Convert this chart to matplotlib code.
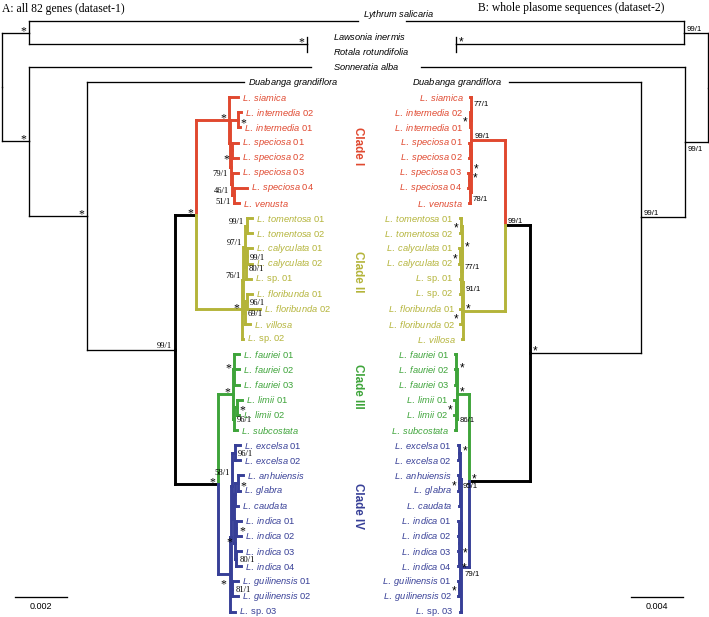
import matplotlib
matplotlib.use('Agg')
import matplotlib.pyplot as plt
from matplotlib.transforms import blended_transform_factory

plt.rcParams['mathtext.fontset'] = 'custom'
plt.rcParams['mathtext.it'] = 'Liberation Sans:italic'
plt.rcParams['mathtext.rm'] = 'Liberation Sans'
plt.rcParams['font.family'] = ['Liberation Sans', 'DejaVu Sans']

# ---------------- data: trees in Newick (branch lengths = substitutions/site) ----
# support label suffixes: '_' below branch, '>' on the tip side, '~' centred on the stem side,
# '^' raised above the branch
BACKBONE_A = ("((Lythrum salicaria:0.01265,(Lawsonia inermis:0.00002,Rotala rotundifolia:0.00002)*:0.01069)*:0.00104,"
              "(Sonneratia alba:0.01085,(Duabanga grandiflora:0.00604,((#I:0.00127,#II:0.00177)*:0.00081,"
              "(#III:0.00058,#IV:0.00046)*:0.00165)99/1:0.00338)*:0.00223)*:0.00104)")
CLADE_I_A = ("(L. siamica:0.00035,((L. intermedia 02:0.00012,L. intermedia 01:0.00008)*>:0.0003,"
             "((L. speciosa 01:0.0002,L. speciosa 02:0.0002)*_:0.00005,(L. speciosa 03:0.0002,"
             "(L. speciosa 04:0.0005,L. venusta:0.0002)51/1_:0.00005)46/1_:0.00005)79/1_:0.00005):0.00003)*")
CLADE_II_A = ("((((L. tomentosa 01:0.0002,L. tomentosa 02:0.0002)99/1:0.0001,((L. calyculata 01:0.0002,"
              "L. calyculata 02:0.0002)99/1>:0.00005,L. sp. 01:0.0002)80/1>:0.00005)97/1:0.00005,"
              "((L. floribunda 01:0.0002,L. floribunda 02:0.0005)96/1>:0.0001,L. villosa:0.0002)69/1>:0.00005)76/1:0.00005,"
              "L. sp. 02:0.00005)*")
CLADE_III_A = ("((L. fauriei 01:0.0002,L. fauriei 02:0.0002,L. fauriei 03:0.0002)*:0.00005,"
               "((L. limii 01:0.0002,L. limii 02:0.0001)*>:0.0001,L. subcostata:0.0001)96/1>:0.00005)*")
CLADE_IV_A = ("((((L. excelsa 01:0.0002,L. excelsa 02:0.0002)96/1>:0.0001,"
              "(((L. anhuiensis:0.0002,L. glabra:0.0001)*>:0.0001,L. caudata:0.0001):0.00005,"
              "((L. indica 01:0.0002,L. indica 02:0.0002)*>:0.00005,(L. indica 03:0.0002,"
              "L. indica 04:0.0002)80/1>:0.00005)*:0.00005):0.00005)58/1^:0.00005,"
              "(L. guilinensis 01:0.0002,L. guilinensis 02:0.0002)81/1>:0.00005):0.00005,L. sp. 03:0.0002)*_")

BACKBONE_B = ("((Lythrum salicaria:0.0214,(Lawsonia inermis:0.00002,Rotala rotundifolia:0.00002)*:0.01754)99/1:0.00185,"
              "(Sonneratia alba:0.0203,(Duabanga grandiflora:0.01015,((#I:0.0026,#II:0.00323)99/1:0.00192,"
              "(#III:0.00092,#IV:0.0006)*:0.00469)*:0.00854)99/1:0.00338)99/1_:0.00177)")
CLADE_I_B = ("((L. siamica:0.00005,(L. intermedia 02:0.00005,L. intermedia 01:0.00005)*>:0.00005)77/1:0.00003,"
             "((L. speciosa 01:0.0001,L. speciosa 02:0.0001):0.00005,((L. speciosa 03:0.0001,"
             "L. speciosa 04:0.0001)*:0.00005,L. venusta:0.0001)78/1_:0.00005)*:0.00005)99/1")
CLADE_II_B = ("((((L. tomentosa 01:0.0001,L. tomentosa 02:0.0001)*>:0.00005,((L. calyculata 01:0.0001,"
              "L. calyculata 02:0.0001)*>:0.00005,(L. sp. 01:0.0001,L. sp. 02:0.0001))77/1:0.00005)*:0.00005,"
              "(L. floribunda 01:0.0001,L. floribunda 02:0.0001)*>:0.00005)91/1_:0.00005,L. villosa:0.0001)*")
CLADE_III_B = ("((L. fauriei 01:0.0001,L. fauriei 02:0.0001,L. fauriei 03:0.0001)*:0.00005,"
               "((L. limii 01:0.0001,L. limii 02:0.0001)*>:0.00005,L. subcostata:0.0001)86/1~:0.00005)*")
CLADE_IV_B = ("((((L. excelsa 01:0.0001,L. excelsa 02:0.0001)*:0.00005,(L. anhuiensis:0.0001,L. glabra:0.0001)*>:0.00005,"
              "L. caudata:0.0001)95/1_:0.00005,(((L. indica 01:0.0001,L. indica 02:0.0001):0.00003,"
              "(L. indica 03:0.0001,L. indica 04:0.0001)*_:0.00003)*_:0.00005,"
              "(L. guilinensis 01:0.0001,L. guilinensis 02:0.0001)*>:0.00005):0.00005):0.00005,L. sp. 03:0.0001)79/1_")

CLADE_NAMES = ['I', 'II', 'III', 'IV']
CLADE_COLORS = {'I': '#e0482f', 'II': '#b4b43a', 'III': '#3ea43a', 'IV': '#373f97'}
CLADE_LABEL_SHIFT = {'I': -4, 'II': -7, 'III': -6, 'IV': -22}   # px, layout only
SHARED_OUTGROUPS = ['Lythrum salicaria', 'Lawsonia inermis', 'Rotala rotundifolia', 'Sonneratia alba']
TITLE_A = 'A: all 82 genes (dataset-1)'
TITLE_B = 'B: whole plasome sequences (dataset-2)'
SCALE_A = 0.002
SCALE_B = 0.004

# ---------------- tree utilities ----------------
def parse(s):
    pos = 0
    def node():
        nonlocal pos
        n = {'children': [], 'name': '', 'len': 0.0}
        if s[pos] == '(':
            pos += 1
            while True:
                n['children'].append(node())
                if s[pos] == ',':
                    pos += 1
                    continue
                if s[pos] == ')':
                    pos += 1
                    break
        st = pos
        while pos < len(s) and s[pos] not in ',():;':
            pos += 1
        n['name'] = s[st:pos].strip()
        if pos < len(s) and s[pos] == ':':
            pos += 1
            st = pos
            while pos < len(s) and s[pos] not in ',();':
                pos += 1
            n['len'] = float(s[st:pos])
        return n
    return node()


def build(backbone, clades):
    root = parse(backbone)
    def graft(n, clade):
        n['clade'] = clade
        for i, c in enumerate(n['children']):
            if c['name'].startswith('#'):
                key = c['name'][1:]
                sub = parse(clades[key])
                sub['len'] = c['len']
                graft(sub, key)
                n['children'][i] = sub
            else:
                graft(c, clade)
    graft(root, None)
    return root


def layout(root):
    counter = [0]
    def rec(n, x):
        n['x'] = x + n['len']
        if not n['children']:
            n['y'] = counter[0]
            counter[0] += 1
            n['og'] = n['clade'] is None
        else:
            for c in n['children']:
                rec(c, n['x'])
            n['y'] = 0.5 * (n['children'][0]['y'] + n['children'][-1]['y'])
            n['og'] = any(c['og'] for c in n['children'])
    root['len'] = 0.0
    rec(root, 0.0)


def fmt(name):
    parts = name.split(' ')
    if name.startswith('L. sp.'):
        ital, rest = 'L.', ' '.join(parts[1:])
    elif parts[-1].isdigit():
        ital, rest = ' '.join(parts[:-1]), parts[-1]
    else:
        ital, rest = name, ''
    s = r'$\mathit{' + ital.replace(' ', r'\ ') + '}$'
    if rest:
        s += ' ' + rest
    return s


PX = 72.0 / 100.0  # points per pixel


def draw_tree(ax, root, side, sup_font, sup_size, star_size):
    stem = -1 if side == 'left' else 1      # screen direction of the stem side
    def rec(n):
        for c in n['children']:
            thick = not n['og']
            col = CLADE_COLORS[c['clade']] if c['clade'] else 'black'
            lw = 2.1 if thick else 0.95
            ax.plot([n['x'], n['x']], [n['y'], c['y']], color=col, lw=lw,
                    solid_capstyle='projecting', zorder=3 if thick else 2)
            ax.plot([n['x'], c['x']], [c['y'], c['y']], color=col, lw=lw,
                    solid_capstyle='projecting', zorder=3 if thick else 2)
            rec(c)
        if not n['children']:
            if n['name'] in SHARED_OUTGROUPS:
                return
            col = CLADE_COLORS[n['clade']] if n['clade'] else 'black'
            gap = 4 if side == 'left' else 6
            ax.annotate(fmt(n['name']), (n['x'], n['y']), xytext=(-stem * gap * PX, 0),
                        textcoords='offset points', ha='left' if side == 'left' else 'right',
                        va='center', fontsize=6.7, color=col, zorder=5)
        elif n['name']:
            lab = n['name']
            mode = ''
            if lab[-1] in '_>~^':
                mode = lab[-1]
                lab = lab[:-1]
            star = lab == '*'
            direction = -stem if mode == '>' else stem
            if mode == '_':
                dy = -(12.5 if star else 9) * PX
            elif mode in ('>', '~'):
                dy = (-6 if star else -3.5) * PX
            elif mode == '^':
                dy = (7.5 if star else 11) * PX
            else:
                dy = (-1.5 if star else 2) * PX
            dx = direction * 3 * PX
            ax.annotate(lab, (n['x'], n['y']), xytext=(dx, dy), textcoords='offset points',
                        ha='right' if direction < 0 else 'left', va='baseline',
                        fontsize=star_size if star else sup_size, family=sup_font,
                        color='black', zorder=6)
    rec(root)


def leaf_y(root, name):
    stack = [root]
    while stack:
        n = stack.pop()
        if not n['children'] and n['name'] == name:
            return n['y']
        stack.extend(n['children'])


def clade_rows(root, key):
    ys = []
    stack = [root]
    while stack:
        n = stack.pop()
        if not n['children'] and n['clade'] == key:
            ys.append(n['y'])
        stack.extend(n['children'])
    return ys

# ---------------- figure ----------------
W, H = 709, 617
fig = plt.figure(figsize=(W / 100, H / 100), dpi=100)

treeA = build(BACKBONE_A, dict(zip(CLADE_NAMES, [CLADE_I_A, CLADE_II_A, CLADE_III_A, CLADE_IV_A])))
treeB = build(BACKBONE_B, dict(zip(CLADE_NAMES, [CLADE_I_B, CLADE_II_B, CLADE_III_B, CLADE_IV_B])))
layout(treeA)
layout(treeB)

row0, rowstep = 21.5, 15.13
ylim = ((H - row0) / rowstep, (0 - row0) / rowstep)

pxA = 26000.0   # pixels per unit, tree A
pxB = 13000.0   # pixels per unit, tree B
axA = fig.add_axes([0, 0, 1, 1])
axA.set_xlim(-2 / pxA, (W - 2) / pxA)
axA.set_ylim(*ylim)
axA.axis('off')
axB = fig.add_axes([0, 0, 1, 1])
axB.set_xlim(708 / pxB, (708 - W) / pxB)
axB.set_ylim(*ylim)
axB.axis('off')
axB.patch.set_alpha(0)

draw_tree(axA, treeA, 'left', 'Liberation Serif', 6.2, 8.5)
draw_tree(axB, treeB, 'right', 'Liberation Sans', 5.6, 8.5)

# shared outgroup labels in the middle
tr = blended_transform_factory(fig.transFigure, axA.transData)
for name in SHARED_OUTGROUPS:
    y = leaf_y(treeA, name)
    if name == 'Lythrum salicaria':
        axA.annotate(fmt(name), (363 / W, y), xycoords=tr, xytext=(0, 6.5 * PX),
                     textcoords='offset points', ha='left', va='center', fontsize=6.7)
    else:
        axA.text(333 / W, y, fmt(name), transform=tr, ha='left', va='center', fontsize=6.7)

# clade labels
for key in CLADE_NAMES:
    ys = clade_rows(treeA, key)
    yc = 0.5 * (min(ys) + max(ys))
    axA.annotate('Clade ' + key, (358 / W, yc), xycoords=tr,
                 xytext=(0, -CLADE_LABEL_SHIFT[key] * PX), textcoords='offset points',
                 rotation=270, ha='center', va='center',
                 fontsize=8.4, fontweight='bold', color=CLADE_COLORS[key])

# titles
fig.text(2 / W, 1 - 9 / H, TITLE_A, ha='left', va='center', fontsize=8.4, family='Liberation Serif')
fig.text(571 / W, 1 - 8 / H, TITLE_B, ha='center', va='center', fontsize=8.4, family='Liberation Serif')

# scale bars
sy = (597 - row0) / rowstep
axA.plot([0.0005, 0.0005 + SCALE_A], [sy, sy], color='black', lw=0.95)
axA.annotate(str(SCALE_A), (0.0005 + SCALE_A / 2, sy), xytext=(0, -5 * PX), textcoords='offset points',
             ha='center', va='top', fontsize=6.5)
axB.plot([0.0019, 0.0019 + SCALE_B], [sy, sy], color='black', lw=0.95)
axB.annotate(str(SCALE_B), (0.0019 + SCALE_B / 2, sy), xytext=(0, -5 * PX), textcoords='offset points',
             ha='center', va='top', fontsize=6.5)

fig.savefig('out.png', dpi=100)
